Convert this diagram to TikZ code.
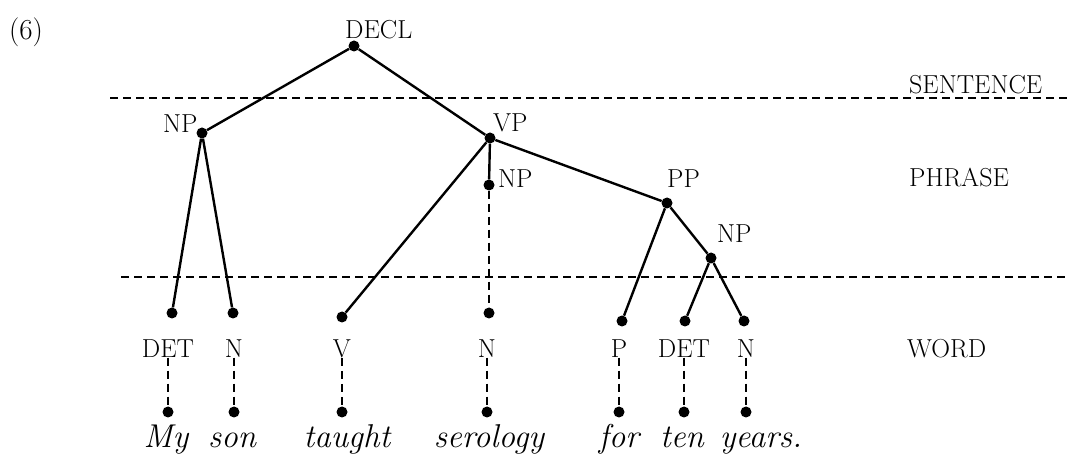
\documentclass[tikz,border=0pt]{standalone}
\usepackage{fontspec}
\usetikzlibrary{calc, positioning}

\begin{document}
\begin{tikzpicture}[x=1pt,y=-1pt,
    dot/.style={circle,fill,inner sep=0pt,minimum size=11pt},
    cat/.style={font=\fontsize{26}{30}\selectfont,inner sep=0pt},
    catW/.style={cat,anchor=west},
    wordtext/.style={font=\fontsize{33}{38}\selectfont\itshape,inner sep=0pt,anchor=base},
    branch/.style={line width=2.4pt},
    dashline/.style={line width=2.4pt,dash pattern=on 8pt off 5pt}]
\useasboundingbox (0,0) rectangle (1069,454);

% Example number
\node[cat,font=\fontsize{29}{34}\selectfont] (exno) at (26,32) {(6)};

% Level boundaries
\coordinate (sentL) at (110,98);
\coordinate (sentR) at (1069,98);
\coordinate (wordL) at (121,277);
\coordinate (wordR) at (1069,277);
\draw[dashline] (sentL) -- (sentR);
\draw[dashline] (wordL) -- (wordR);
\node[catW] (sentence) at (909,84.5) {SENTENCE};
\node[catW] (phrase) at (909,178) {PHRASE};
\node[catW] (wordlev) at (907,348.5) {WORD};

% Phrase nodes
\node[dot] (decl) at (354,46) {};
\node[dot] (np1) at (202,133) {};
\node[dot] (vp) at (490,138) {};
\node[dot] (np2) at (489,185) {};
\node[dot] (pp) at (667,203) {};
\node[dot] (np3) at (711,258) {};
\node[catW] (declL) at (345,30) {DECL};
\node[catW] (np1L) at (163,123.5) {NP};
\node[catW] (vpL) at (493,122.5) {VP};
\node[catW] (np2L) at (498,179) {NP};
\node[catW] (ppL) at (667,178.5) {PP};
\node[catW] (np3L) at (717,233.5) {NP};

% Word nodes, their categories and the words
\foreach \n/\x/\y/\c/\lx/\w/\wx in {
    a/172/313/DET/168/My/166,
    b/233/313/N/234/son/232,
    c/342/317/V/342/taught/347,
    d/489/313/N/487/serology/489,
    e/622/321/P/619/for/619,
    f/685/321/DET/684/ten/682,
    g/744/321/N/746/years./761}{
  \node[dot] (w\n) at (\x,\y) {};
  \node[cat] (c\n) at (\lx,348.5) {\c};
  \node[dot] (b\n) at (\lx,412) {};
  \node[wordtext] (t\n) at (\wx,447) {\w};
  \draw[dashline] (c\n) -- (b\n);
}

% Branches
\draw[branch] (decl) -- (np1);
\draw[branch] (decl) -- (vp);
\draw[branch] (np1) -- (wa);
\draw[branch] (np1) -- (wb);
\draw[branch] (vp) -- (wc);
\draw[branch] (vp) -- (np2);
\draw[dashline] (np2) -- (wd);
\draw[branch] (vp) -- (pp);
\draw[branch] (pp) -- (we);
\draw[branch] (pp) -- (np3);
\draw[branch] (np3) -- (wf);
\draw[branch] (np3) -- (wg);
\end{tikzpicture}
\end{document}
